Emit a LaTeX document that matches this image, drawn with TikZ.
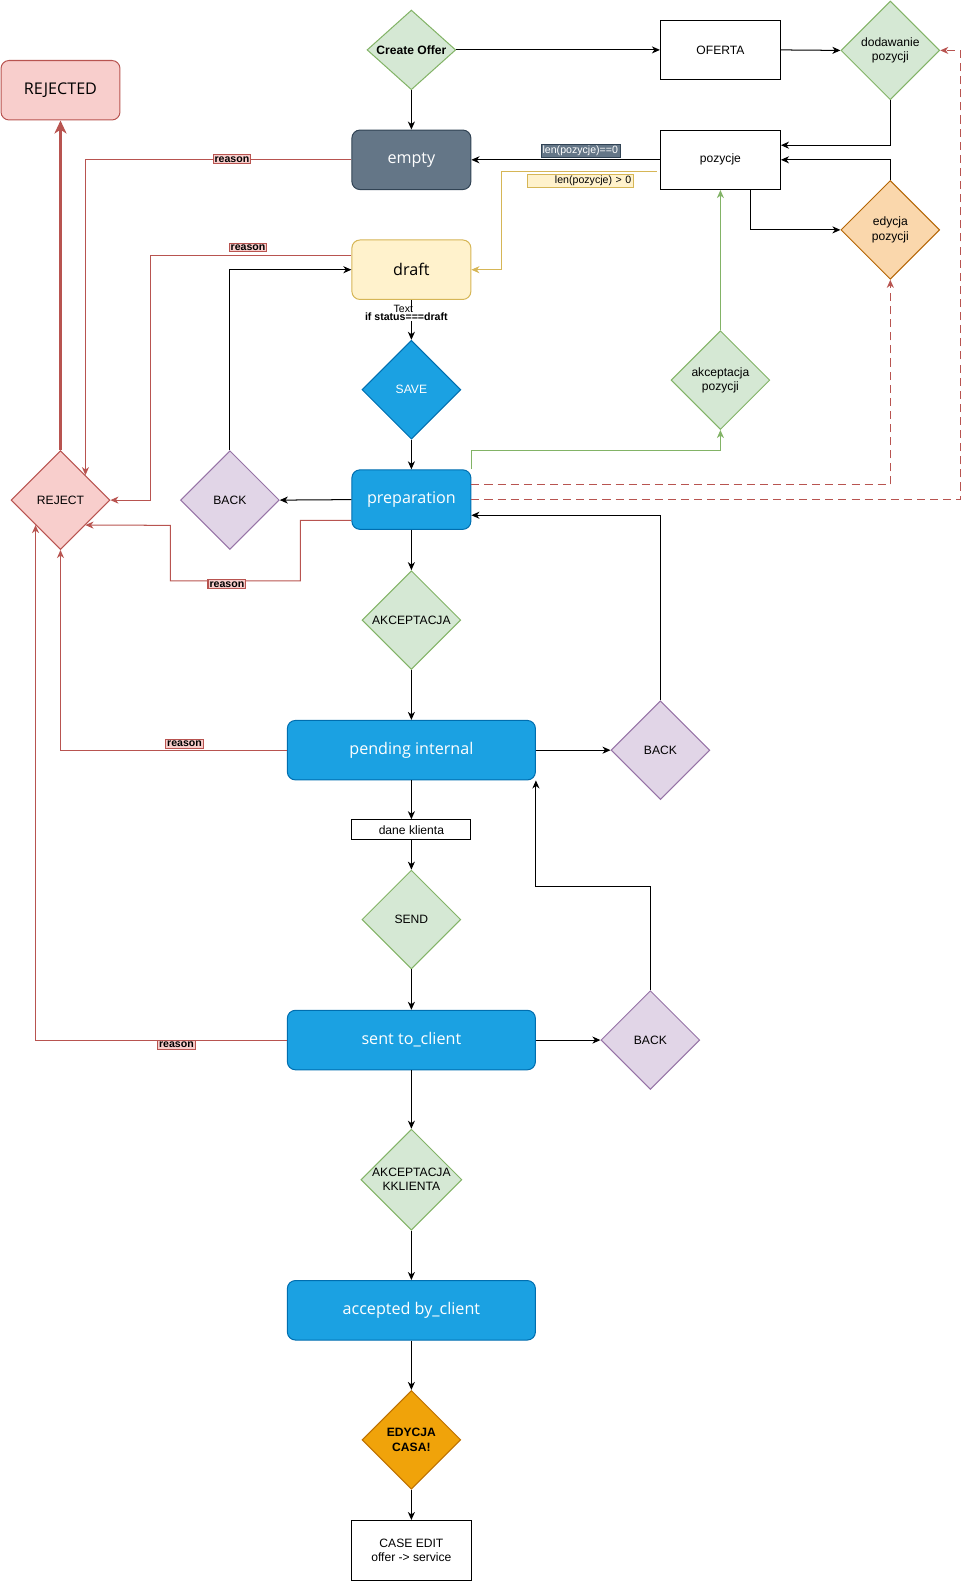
\documentclass[tikz,border=0pt]{standalone}
\usepackage{fontspec}
\setmainfont{Liberation Sans}
\newfontfamily\bigfont{Open Sans}
\usetikzlibrary{shapes.geometric,arrows.meta,calc}
\definecolor{gfill}{HTML}{D5E8D4}\definecolor{gline}{HTML}{82B366}
\definecolor{rfill}{HTML}{F8CECC}\definecolor{rline}{HTML}{B85450}
\definecolor{sfill}{HTML}{647687}\definecolor{sline}{HTML}{314354}
\definecolor{yfill}{HTML}{FFF2CC}\definecolor{yline}{HTML}{D6B656}
\definecolor{bfill}{HTML}{1BA1E2}\definecolor{bline}{HTML}{006EAF}
\definecolor{pfill}{HTML}{E1D5E7}\definecolor{pline}{HTML}{9673A6}
\definecolor{ofill}{HTML}{FAD7AC}\definecolor{oline}{HTML}{B46504}
\definecolor{cfill}{HTML}{F0A30A}\definecolor{cline}{HTML}{BD7000}
\begin{document}
\begin{tikzpicture}[x=1pt,y=-1pt,line width=1pt,
  every node/.style={font=\fontsize{12}{14}\selectfont},
  diam/.style={diamond,draw,aspect=1,inner sep=0pt,minimum width=98pt,minimum height=98pt,align=center},
  gdiam/.style={diam,fill=gfill,draw=gline},
  pdiam/.style={diam,fill=pfill,draw=pline},
  plainbox/.style={rectangle,draw=black,fill=white,minimum width=119pt,minimum height=59pt,align=center},
  stbox/.style={rectangle,rounded corners=8pt,minimum width=118pt,minimum height=59pt,font=\bigfont\fontsize{16}{19}\selectfont},
  bluebox/.style={stbox,fill=bfill,draw=bline,text=white},
  arr/.style={-{Stealth[length=8pt,width=7pt,inset=2.5pt]}},
  redarr/.style={arr,draw=rline},
  reasonlbl/.style={fill=rfill,draw=rline,inner sep=1.5pt,font=\bfseries\fontsize{10.5}{12}\selectfont}
]
\useasboundingbox (0,0) rectangle (961,1568);
% nodes
\node[diam,fill=gfill,draw=gline,minimum width=88pt,minimum height=79pt,font=\bfseries\fontsize{12}{14}\selectfont] (co) at (408,49.5) {Create Offer};
\node[plainbox] (oferta) at (714.5,49.5) {OFERTA};
\node[gdiam] (dod) at (883,50) {dodawanie\\pozycji};
\node[stbox,fill=rfill,draw=rline] (rejected) at (60,89.5) {REJECTED};
\node[stbox,fill=sfill,draw=sline,text=white] (empty) at (408,158.5) {empty};
\node[plainbox] (poz) at (714.5,158.5) {pozycje};
\node[diam,fill=ofill,draw=oline] (edy) at (883,228) {edycja\\pozycji};
\node[stbox,fill=yfill,draw=yline] (draft) at (408,267.5) {draft};
\node[diam,fill=bfill,draw=bline,text=white] (save) at (408,386.5) {SAVE};
\node[gdiam] (akp) at (714.5,377) {akceptacja\\pozycji};
\node[bluebox] (prep) at (408,495.5) {preparation};
\node[pdiam] (back1) at (228,496) {BACK};
\node[diam,fill=rfill,draw=rline] (reject) at (60,496) {REJECT};
\node[gdiam] (akc) at (408,615) {AKCEPTACJA};
\node[bluebox,minimum width=246pt] (pend) at (408,744) {pending internal};
\node[pdiam] (back2) at (655,744) {BACK};
\node[plainbox,minimum width=118pt,minimum height=20pt] (dane) at (408,823) {dane klienta};
\node[gdiam] (send) at (408,912) {SEND};
\node[bluebox,minimum width=246pt] (sent) at (408,1031.5) {sent to\_client};
\node[pdiam] (back3) at (645,1031.5) {BACK};
\node[gdiam] (akk) at (408,1170) {AKCEPTACJA\\KKLIENTA};
\node[bluebox,minimum width=246pt] (acc) at (408,1299.5) {accepted by\_client};
\node[diam,fill=cfill,draw=cline,font=\bfseries\fontsize{12}{14}\selectfont] (edc) at (408,1428) {EDYCJA\\CASA!};
\node[plainbox] (case) at (408,1537.5) {CASE EDIT\\offer -> service};
% top connectors
\draw[arr] (co.east) -- (oferta.west);
\draw[arr] (oferta.east) -- (dod.west);
\draw[arr] (co.south) -- (empty.north);
\draw[arr] (dod.south) |- ([yshift=14.5pt]poz.east);
\draw[arr] (edy.north) |- (poz.east);
\draw[arr] ([xshift=30pt]poz.south) |- (edy.west);
\draw[arr] (poz.west) -- (empty.east);
\node[fill=sfill,draw=sline,line width=0.5pt,text=white,inner sep=1.8pt,font=\fontsize{10.5}{12}\selectfont] (l0) at (575.5,149.5) {len(pozycje)==0};
\draw[arr,draw=yline] ([xshift=-3pt,yshift=-11.5pt]poz.west) -| ($(draft.east)+(30,0)$) -- (draft.east);
\node[fill=yfill,draw=yline,line width=0.7pt,inner sep=1.8pt,text width=101pt,align=right,font=\fontsize{10.5}{12}\selectfont] (l1) at (575.5,179.5) {len(pozycje) > 0};
\draw[arr,draw=gline] (akp.north) -- (poz.south);
\draw[arr,draw=gline] ([xshift=0.5pt]prep.north east) |- ($(akp.south)+(0,20)$) -- (akp.south);
\draw[redarr,dash pattern=on 8pt off 5pt] ([yshift=14.5pt]prep.east) -| (edy.south);
\draw[redarr,dash pattern=on 8pt off 5pt] (prep.east) -| ($(dod.east)+(20,0)$) -- (dod.east);
% draft / save
\draw[arr] (draft.south) -- (save.north);
\node[fill=white,inner sep=0.5pt,font=\bfseries\fontsize{10.5}{12}\selectfont] (l2) at (403,314) {if status===draft};
\node[inner sep=0pt,font=\fontsize{10.5}{12}\selectfont] (l3) at (400,306) {Text};
\draw[arr] (save.south) -- (prep.north);
\draw[arr] (prep.west) -- (back1.east);
\draw[arr] (back1.north) |- (draft.west);
% reject connectors
\draw[redarr,line width=3pt,-{Stealth[length=13pt,width=12pt,inset=4pt]}] (reject.north) -- (rejected.south);
\draw[redarr] (empty.west) -| (reject.north east);
\node[reasonlbl] (r1) at (230,158) {reason};
\draw[redarr] ([yshift=14.5pt]draft.west) -| ($(reject.east)+(40,0)$) -- (reject.east);
\node[reasonlbl] (r2) at (246,245.5) {reason};
\draw[redarr] ([yshift=-20.5pt]prep.west) -| (298,576) -| (169,521) -- (reject.south east);
\node[reasonlbl] (r3) at (225,579.5) {reason};
\draw[redarr] (pend.west) -| (reject.south);
\node[reasonlbl] (r4) at (183,738) {reason};
\draw[redarr] (sent.west) -| (reject.south west);
\node[reasonlbl] (r5) at (175,1036.5) {reason};
% main flow
\draw[arr] (prep.south) -- (akc.north);
\draw[arr] (akc.south) -- (pend.north);
\draw[arr] (pend.east) -- (back2.west);
\draw[arr] (back2.north) |- ([yshift=-15.5pt]prep.east);
\draw[arr] (pend.south) -- (dane.north);
\draw[arr] (dane.south) -- (send.north);
\draw[arr] (send.south) -- (sent.north);
\draw[arr] (sent.east) -- (back3.west);
\draw[arr] (back3.north) |- ($(pend.south east)+(0,105)$) -- (pend.south east);
\draw[arr] (sent.south) -- (akk.north);
\draw[arr] (akk.south) -- (acc.north);
\draw[arr] (acc.south) -- (edc.north);
\draw[arr] (edc.south) -- (case.north);
\end{tikzpicture}
\end{document}
